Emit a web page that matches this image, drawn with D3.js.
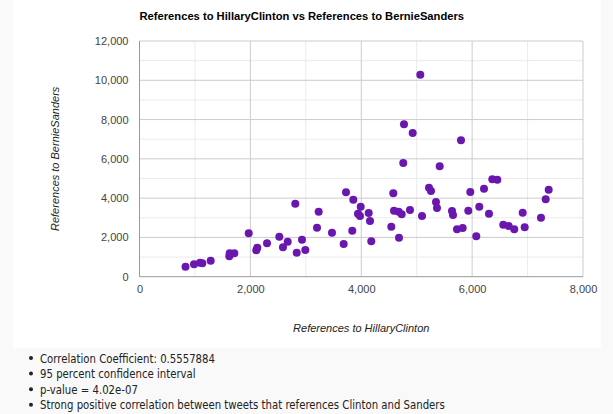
<!DOCTYPE html>
<html>
<head>
<meta charset="utf-8">
<script src="https://cdn.jsdelivr.net/npm/d3@7"></script>
<style>
  html, body { margin: 0; padding: 0; background: #f9f9f9; }
  svg { display: block; }
</style>
</head>
<body>
<svg id="chart" width="613" height="414"></svg>
<script>
// References to Clinton (x) and to Sanders (y) per sample
const clintonRefs = [830, 983, 1091, 1133, 1284, 1627, 1620, 1710, 1970, 2107,
  2125, 2300, 2522, 2588, 2673, 2810, 2836, 2931, 2991, 3202,
  3232, 3472, 3683, 3725, 3838, 3857, 3941, 3977, 3990, 4134,
  4158, 4181, 4542, 4578, 4591, 4675, 4681, 4729, 4758, 4771,
  4879, 4928, 5065, 5096, 5222, 5258, 5348, 5366, 5415, 5637,
  5655, 5727, 5799, 5830, 5931, 5967, 6075, 6129, 6214, 6304,
  6364, 6454, 6562, 6659, 6760, 6912, 6948, 7242, 7327, 7381];
const sandersRefs = [510, 631, 712, 682, 814, 1191, 1038, 1191, 2209, 1344,
  1476, 1700, 2036, 1496, 1781, 3715, 1221, 1883, 1359, 2494,
  3308, 2239, 1664, 4295, 2341, 3919, 3206, 3089, 3562, 3242,
  2835, 1802, 2545, 4244, 3359, 3308, 1985, 3176, 5786, 7756,
  3394, 7313, 10280, 3089, 4529, 4361, 3802, 3496, 5618, 3344,
  3140, 2412, 6941, 2478, 3359, 4310, 2056, 3562, 4478, 3206,
  4957, 4936, 2646, 2580, 2412, 3257, 2514, 3003, 3939, 4427];

const xTicks = [0, 2000, 4000, 6000, 8000];
const yTicks = [0, 2000, 4000, 6000, 8000, 10000, 12000];
const xMinor = [1000, 3000, 5000, 7000];
const yMinor = [1000, 3000, 5000, 7000, 9000, 11000];

const notes = [
  "Correlation Coefficient: 0.5557884",
  "95 percent confidence interval",
  "p-value = 4.02e-07",
  "Strong positive correlation between tweets that references Clinton and Sanders"
];

const titleText = "References to HillaryClinton vs References to BernieSanders";
const xTitle = "References to HillaryClinton";
const yTitle = "References to BernieSanders";

const svg = d3.select("#chart");
const fmt = d3.format(",");
const arial = "Arial, 'Liberation Sans', sans-serif";

// chart panel
svg.append("rect").attr("x", 13).attr("y", 0).attr("width", 588).attr("height", 348).attr("fill", "#ffffff");

const plot = { left: 139.5, right: 583, top: 41, bottom: 276.7 };
const x = d3.scaleLinear().domain([0, 8000]).range([plot.left, plot.right]);
const y = d3.scaleLinear().domain([0, 12000]).range([plot.bottom, plot.top]);

// minor gridlines
const grid = svg.append("g");
grid.selectAll(".vminor").data(xMinor).join("line")
  .attr("x1", d => x(d)).attr("x2", d => x(d))
  .attr("y1", plot.top).attr("y2", plot.bottom)
  .attr("stroke", "#ebebeb").attr("stroke-width", 1);
grid.selectAll(".hminor").data(yMinor).join("line")
  .attr("y1", d => y(d)).attr("y2", d => y(d))
  .attr("x1", plot.left).attr("x2", plot.right)
  .attr("stroke", "#ebebeb").attr("stroke-width", 1);
// major gridlines
grid.selectAll(".vmajor").data(xTicks.slice(1)).join("line")
  .attr("x1", d => x(d)).attr("x2", d => x(d))
  .attr("y1", plot.top).attr("y2", plot.bottom)
  .attr("stroke", "#cccccc").attr("stroke-width", 1);
grid.selectAll(".hmajor").data(yTicks.slice(1)).join("line")
  .attr("y1", d => y(d)).attr("y2", d => y(d))
  .attr("x1", plot.left).attr("x2", plot.right)
  .attr("stroke", "#cccccc").attr("stroke-width", 1);
// baselines
grid.append("line").attr("x1", plot.left).attr("x2", plot.right)
  .attr("y1", y(0)).attr("y2", y(0)).attr("stroke", "#999999");
grid.append("line").attr("x1", x(0)).attr("x2", x(0))
  .attr("y1", plot.top).attr("y2", plot.bottom).attr("stroke", "#999999");

// axes (tick labels only)
const xAxis = d3.axisBottom(x).tickValues(xTicks).tickFormat(fmt).tickSize(0).tickPadding(9);
const yAxis = d3.axisLeft(y).tickValues(yTicks).tickFormat(fmt).tickSize(0).tickPadding(11);
const gx = svg.append("g").attr("transform", `translate(0,${plot.bottom})`).call(xAxis);
const gy = svg.append("g").attr("transform", `translate(${plot.left},0)`).call(yAxis);
[gx, gy].forEach(g => {
  g.select(".domain").remove();
  g.selectAll("text").attr("fill", "#444444").style("font-family", arial).style("font-size", "11px");
});

// points
svg.append("g").selectAll("circle")
  .data(clintonRefs.map((c, i) => [c, sandersRefs[i]]))
  .join("circle")
  .attr("cx", d => x(d[0]))
  .attr("cy", d => y(d[1]))
  .attr("r", 4)
  .attr("fill", "#6a17b0");

// titles
svg.append("text").attr("x", plot.left).attr("y", 20)
  .attr("fill", "#000").style("font-family", arial)
  .style("font-size", "11.2px").style("font-weight", "bold").text(titleText);
svg.append("text").attr("x", (plot.left + plot.right) / 2).attr("y", 332)
  .attr("text-anchor", "middle").attr("fill", "#222")
  .style("font-family", arial).style("font-size", "11px")
  .style("font-style", "italic").text(xTitle);
svg.append("text").attr("transform", `translate(59,${(plot.top + plot.bottom) / 2}) rotate(-90)`)
  .attr("text-anchor", "middle").attr("fill", "#222")
  .style("font-family", arial).style("font-size", "11px")
  .style("font-style", "italic").text(yTitle);

// notes list (narrowed text)
const list = svg.append("g");
list.selectAll("circle").data(notes).join("circle")
  .attr("cx", 31).attr("cy", (d, i) => 358 + i * 15.6).attr("r", 2).attr("fill", "#222");
list.selectAll("text").data(notes).join("text")
  .attr("x", 40).attr("y", (d, i) => 362.5 + i * 15.6)
  .attr("fill", "#222").style("font-family", "'DejaVu Sans', sans-serif").style("font-size", "12px")
  .text(d => d)
  .each(function () {
    const w = this.getComputedTextLength();
    d3.select(this).attr("textLength", w * 0.845).attr("lengthAdjust", "spacingAndGlyphs");
  });
</script>
</body>
</html>
